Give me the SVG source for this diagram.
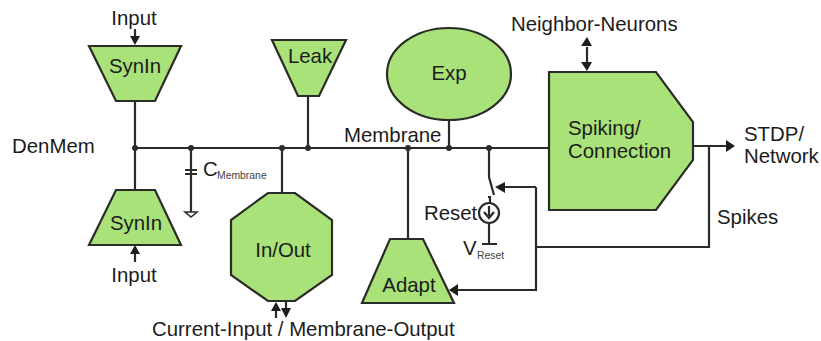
<svg xmlns="http://www.w3.org/2000/svg" width="821" height="341" viewBox="0 0 821 341">
<style>
text{font-family:"Liberation Sans",Arial,sans-serif;font-size:20.4px;fill:#1c1c1c}
.m{text-anchor:middle}
.s{font-size:10.4px;fill:#444}
.n{fill:#a9e278;stroke:#2b2b28;stroke-width:2.2;stroke-linejoin:miter}
.w{fill:none;stroke:#2b2b28;stroke-width:2.2}
.h{fill:#1e1e1c;stroke:none}
.d{fill:#2b2b28}
</style>
<rect width="821" height="341" fill="#fff"/>
<g id="connectors">
<path class="w" d="M135 101V190M135 148H549M191 148V212M185 170H197M185 174H197M308 96V148M282 148V194M408 148V240M449 120V148M489 148V177L494 195"/>
<path class="w" d="M488 197H490V203M489 223V244M482 244H497"/>
<circle class="w" cx="489" cy="213" r="10"/>
<path class="w" d="M489 206V218M484 212L489 218L494 212"/>
<path style="fill:#fff;stroke:#2b2b28;stroke-width:1.6" d="M185 212H197L191 217Z"/>
<path class="w" d="M135 29V38M135 262V252M276 304V318M286 302V310M587 47V62"/>
<path class="h" d="M130 36H140L135 45ZM130 254H140L135 245ZM271 311H281L276 302ZM281 308H291L286 318ZM581 46H592L587 37ZM581 62H592L587 71Z"/>
<path class="w" d="M693 146H726M709 146V247H536M536 187V290H458M536 187H504"/>
<path class="h" d="M726 140L735 146L726 152ZM505 182V193L495 187ZM458 284V296L449 290Z"/>
<g class="d"><circle cx="135" cy="148" r="3"/><circle cx="191" cy="148" r="3"/><circle cx="282" cy="148" r="3"/><circle cx="308" cy="148" r="3"/><circle cx="408" cy="148" r="3"/><circle cx="449" cy="148" r="3"/><circle cx="489" cy="148" r="3"/></g>
</g>
<g id="synin-top"><path class="n" d="M89 46H181L155 101H116Z"/><text class="m" x="135" y="73">SynIn</text></g>
<g id="synin-bottom"><path class="n" d="M116 190H155L181 245H89Z"/><text class="m" x="136" y="230">SynIn</text></g>
<g id="leak"><path class="n" d="M272 40H346L319 96H298Z"/><text class="m" x="310" y="63">Leak</text></g>
<g id="exp"><ellipse class="n" cx="449" cy="74" rx="62" ry="46"/><text class="m" x="449" y="80">Exp</text></g>
<g id="inout"><path class="n" d="M268 193H295L332 220V275L295 301H268L231 275V220Z"/><text class="m" x="283" y="257">In/Out</text></g>
<g id="adapt"><path class="n" d="M390 239H423L454 303H362Z"/><text class="m" x="409" y="292">Adapt</text></g>
<g id="spiking"><path class="n" d="M549 72H656L693 122V160L656 210H549Z"/><text x="568" y="135">Spiking/</text><text x="568" y="158">Connection</text></g>
<g id="labels">
<text class="m" x="134" y="25">Input</text>
<text class="m" x="134" y="282">Input</text>
<text x="12" y="153">DenMem</text>
<text x="203" y="176">C</text><text class="s" x="217" y="179">Membrane</text>
<text x="344" y="142">Membrane</text>
<text x="424" y="220">Reset</text>
<text x="463" y="255">V</text><text class="s" x="477" y="259">Reset</text>
<text x="511" y="31">Neighbor-Neurons</text>
<text x="744" y="141">STDP/</text><text x="744" y="163">Network</text>
<text x="717" y="224">Spikes</text>
<text x="152" y="336">Current-Input / Membrane-Output</text>
</g>
</svg>
